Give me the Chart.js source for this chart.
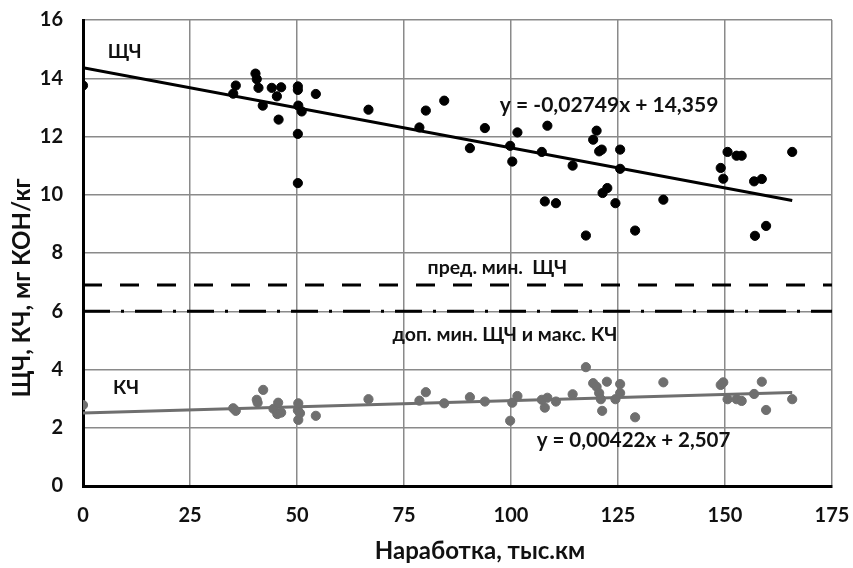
<!DOCTYPE html>
<html>
<head>
<meta charset="utf-8">
<script src="https://cdn.jsdelivr.net/npm/chart.js@4.4.1/dist/chart.umd.min.js"></script>
<style>
  html, body { margin: 0; padding: 0; background: #fff; }
  #wrap { width: 853px; height: 568px; }
</style>
</head>
<body>
<div id="wrap"><canvas id="chart" width="853" height="568"></canvas></div>
<script>
// ЩЧ (щелочное число)
const shchX = [0, 35.1, 35.7, 40.3, 40.6, 41, 42, 44.1, 45.3, 45.7, 46.3, 50.2, 50.2, 50.3, 51.1, 50.2, 50.2, 54.4,
  66.7, 78.6, 80.1, 84.4, 90.4, 93.9, 99.8, 100.3, 101.5, 107.2, 108.5, 107.9, 110.5, 114.4, 117.5, 119.2, 120,
  120.6, 121.2, 121.4, 122.5, 124.4, 125.5, 125.5, 129, 135.6, 149, 149.6, 150.6, 152.7, 153.9, 156.8, 157, 158.6,
  159.6, 165.7];
const shchY = [13.75, 13.47, 13.75, 14.16, 13.97, 13.67, 13.06, 13.67, 13.38, 12.58, 13.69, 13.72, 13.6, 13.06,
  12.86, 12.09, 10.4, 13.46, 12.92, 12.31, 12.89, 13.23, 11.6, 12.29, 11.68, 11.14, 12.14, 11.47, 12.37, 9.77,
  9.71, 11.0, 8.6, 11.89, 12.2, 11.49, 11.55, 10.06, 10.23, 9.71, 11.55, 10.89, 8.77, 9.83, 10.92, 10.55, 11.47,
  11.34, 11.34, 10.46, 8.59, 10.54, 8.93, 11.47];

// КЧ (кислотное число)
const kchX = [0, 35.1, 35.7, 40.6, 40.8, 42.1, 44.5, 45.4, 45.6, 46.3, 50.2, 50.3, 50.3, 50.7, 54.4, 66.7, 78.6,
  80.1, 84.4, 90.4, 93.9, 99.8, 100.3, 101.5, 107.2, 107.9, 108.5, 110.5, 114.4, 117.5, 119.2, 120, 120.6, 121,
  121.3, 122.4, 124.4, 125.5, 125.5, 129, 135.6, 149, 149.6, 150.6, 152.7, 153.9, 156.8, 158.6, 159.6, 165.7];
const kchY = [2.78, 2.67, 2.58, 2.96, 2.86, 3.3, 2.65, 2.47, 2.86, 2.52, 2.6, 2.84, 2.27, 2.5, 2.41, 2.98, 2.93,
  3.22, 2.84, 3.05, 2.9, 2.24, 2.86, 3.09, 2.96, 2.69, 3.03, 2.9, 3.15, 4.08, 3.53, 3.41, 3.19, 2.98, 2.58, 3.58,
  2.98, 3.5, 3.19, 2.36, 3.56, 3.47, 3.56, 2.98, 2.98, 2.92, 3.16, 3.58, 2.61, 2.98];

// линии тренда: [наклон, свободный член], диапазон по x
const shchFit = [-0.02749, 14.359];
const kchFit = [0.00422, 2.507];
const fitRange = [0, 165.7];

// пределы
const predMinShch = 6.9;
const dopMinShch = 6;

const xTicks = [0, 25, 50, 75, 100, 125, 150, 175];
const yTicks = [0, 2, 4, 6, 8, 10, 12, 14, 16];

const FONT = "Lato, 'DejaVu Sans', sans-serif";
const GRAY = '#6f6f6f';

function pts(xs, ys) {
  return xs.map((x, i) => ({ x: x, y: ys[i] }));
}
function fitLine(f) {
  return fitRange.map(x => ({ x: x, y: f[0] * x + f[1] }));
}
function hLine(v) {
  return [{ x: 0, y: v }, { x: 175, y: v }];
}

// подписи на поле графика (в координатах данных)
const notes = [
  { text: 'ЩЧ', x: 5.8, y: 14.9, align: 'left', size: 19 },
  { text: 'y = -0,02749x + 14,359', x: 97.4, y: 13.09, align: 'left', size: 21 },
  { text: 'пред. мин.  ЩЧ', x: 96.8, y: 7.49, align: 'center', size: 19.5 },
  { text: 'доп. мин. ЩЧ и макс. КЧ', x: 98.6, y: 5.19, align: 'center', size: 19.5 },
  { text: 'КЧ', x: 7, y: 3.37, align: 'left', size: 19 },
  { text: 'y = 0,00422x + 2,507', x: 106, y: 1.58, align: 'left', size: 20.5 }
];

const notesPlugin = {
  id: 'notes',
  afterDatasetsDraw(chart) {
    const ctx = chart.ctx;
    const xs = chart.scales.x, ys = chart.scales.y;
    ctx.save();
    ctx.fillStyle = '#111';
    ctx.textBaseline = 'middle';
    notes.forEach(n => {
      ctx.font = 'bold ' + n.size + 'px ' + FONT;
      ctx.textAlign = n.align;
      ctx.fillText(n.text, xs.getPixelForValue(n.x), ys.getPixelForValue(n.y));
    });
    // подписи осей
    ctx.font = 'bold 24px ' + FONT;
    ctx.textAlign = 'center';
    ctx.fillText('Наработка, тыс.км', 480, 551);
    ctx.translate(22, 288);
    ctx.rotate(-Math.PI / 2);
    ctx.fillText('ЩЧ, КЧ, мг КОН/кг', 0, 0);
    ctx.restore();
  }
};

new Chart(document.getElementById('chart'), {
  type: 'scatter',
  data: {
    datasets: [
      {
        label: 'ЩЧ',
        data: pts(shchX, shchY),
        backgroundColor: '#000',
        borderColor: '#000',
        pointRadius: 4.6
      },
      {
        label: 'КЧ',
        data: pts(kchX, kchY),
        backgroundColor: GRAY,
        borderColor: GRAY,
        pointRadius: 4.6
      },
      {
        type: 'line',
        data: fitLine(shchFit),
        borderColor: '#000',
        borderWidth: 3,
        pointRadius: 0
      },
      {
        type: 'line',
        data: fitLine(kchFit),
        borderColor: GRAY,
        borderWidth: 3,
        pointRadius: 0
      },
      {
        type: 'line',
        data: hLine(predMinShch),
        borderColor: '#000',
        borderWidth: 3,
        borderDash: [19, 18],
        pointRadius: 0
      },
      {
        type: 'line',
        data: hLine(dopMinShch),
        borderColor: '#000',
        borderWidth: 3,
        borderDash: [27, 11, 3, 11],
        pointRadius: 0
      }
    ]
  },
  options: {
    responsive: false,
    animation: false,
    layout: { padding: { top: 20, right: 21, left: 0, bottom: 0 } },
    plugins: {
      legend: { display: false },
      tooltip: { enabled: false }
    },
    scales: {
      x: {
        type: 'linear',
        min: 0,
        max: 175,
        afterBuildTicks: s => { s.ticks = xTicks.map(v => ({ value: v })); },
        afterFit: s => { s.height = 82; s.paddingLeft = 0; s.paddingRight = 0; },
        grid: { color: '#8a8a8a', lineWidth: 1.5, drawTicks: false },
        border: { color: '#000', width: 3 },
        ticks: {
          padding: 18,
          color: '#111',
          font: { family: FONT, size: 20, weight: 'bold' }
        }
      },
      y: {
        min: 0,
        max: 16,
        afterBuildTicks: s => { s.ticks = yTicks.map(v => ({ value: v })); },
        afterFit: s => { s.width = 83; s.paddingTop = 0; s.paddingBottom = 0; },
        grid: { color: '#8a8a8a', lineWidth: 1.5, drawTicks: false },
        border: { color: '#000', width: 3 },
        ticks: {
          padding: 20,
          color: '#111',
          font: { family: FONT, size: 20, weight: 'bold' }
        }
      }
    }
  },
  plugins: [notesPlugin]
});
</script>
</body>
</html>
